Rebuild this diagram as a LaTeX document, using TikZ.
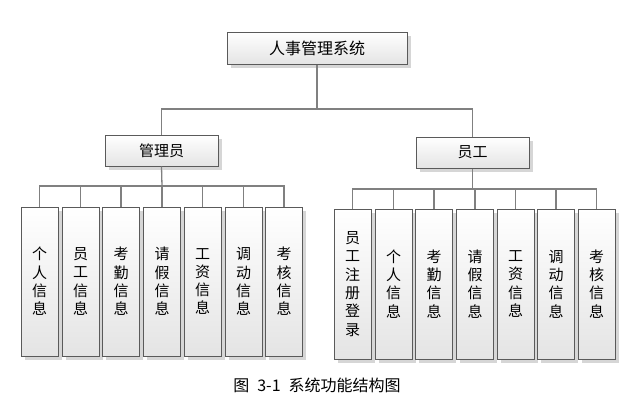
\documentclass[tikz,border=0pt]{standalone}
\usepackage{fontspec}
\setmainfont{Noto Sans CJK SC}
\usetikzlibrary{shadows}
\definecolor{boxborder}{HTML}{5A5A5A}
\definecolor{boxbottom}{HTML}{E4E4E4}
\definecolor{shadowgray}{HTML}{D6D6D6}
\definecolor{linegray}{HTML}{808080}
\tikzset{
  box/.style={draw=boxborder, line width=1pt, top color=white, bottom color=boxbottom,
    drop shadow={shadow xshift=3.5pt, shadow yshift=-3.5pt, fill=shadowgray, opacity=1},
    inner sep=0pt, align=center},
  headbox/.style={box, minimum width=113pt, minimum height=31pt, font=\fontsize{15}{18}\selectfont},
  leafbox/.style={box, minimum width=37pt, font=\fontsize{15}{18.3}\selectfont},
  conn/.style={draw=linegray, line width=1.3pt}
}
\begin{document}
\begin{tikzpicture}[x=1pt,y=-1pt]
\useasboundingbox (0,0) rectangle (635,400);
\fill[white] (0,0) rectangle (635,400);

\node[box, minimum width=180pt, minimum height=32pt, font=\fontsize{16}{18}\selectfont] (root) at (317,48) {人事管理系统};
\node[headbox] (adm) at (161.5,150.5) {管理员};
\node[headbox] (emp) at (472.5,152.5) {员工};

\coordinate (busTop) at (317,109);
\draw[conn] (root.south) -- (busTop);
\draw[conn] (adm.north) |- (busTop);
\draw[conn] (emp.north) |- (busTop);

% left children
\foreach \n/\x/\t in {a1/39.5/{个\\人\\信\\息}, a2/80.5/{员\\工\\信\\息}, a3/121/{考\\勤\\信\\息}, a4/162/{请\\假\\信\\息}, a5/202.5/{工\\资\\信\\息}, a6/243.5/{调\\动\\信\\息}, a7/284/{考\\核\\信\\息}}
  \node[leafbox, minimum height=149pt] (\n) at (\x,281.5) {\t};
\coordinate (busL) at (162,186);
\draw[conn] (adm.south) -- (busL);
\foreach \n in {a1,a2,a3,a4,a5,a6,a7}
  \draw[conn] (\n.north) |- (busL);

% right children
\foreach \n/\x/\t in {b1/352.5/{员\\工\\注\\册\\登\\录}, b2/393.5/{个\\人\\信\\息}, b3/434/{考\\勤\\信\\息}, b4/475/{请\\假\\信\\息}, b5/515.5/{工\\资\\信\\息}, b6/556/{调\\动\\信\\息}, b7/596.5/{考\\核\\信\\息}}
  \node[leafbox, minimum height=150pt] (\n) at (\x,284) {\t};
\coordinate (busR) at (472.5,189);
\draw[conn] (emp.south) -- (busR);
\foreach \n in {b1,b2,b3,b4,b5,b6,b7}
  \draw[conn] (\n.north) |- (busR);

\node[font=\fontsize{16}{18}\selectfont] (cap) at (317,385) {图\hspace{0.5em}3-1\hspace{0.5em}系统功能结构图};
\end{tikzpicture}
\end{document}
